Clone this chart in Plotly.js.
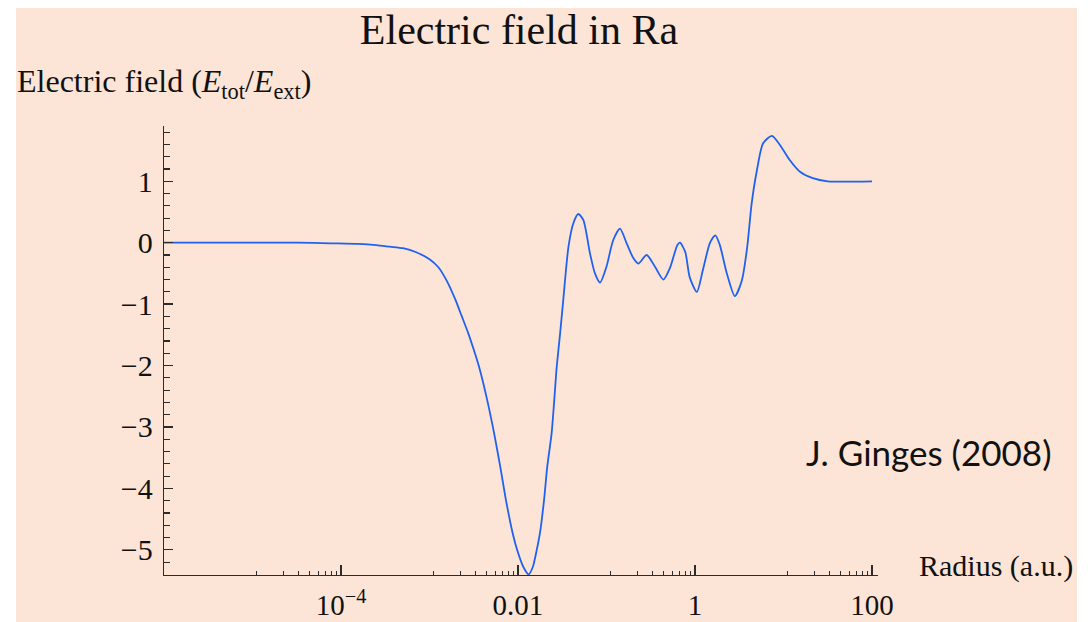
<!DOCTYPE html>
<html>
<head>
<meta charset="utf-8">
<script src="https://cdn.plot.ly/plotly-3.0.1.min.js"></script>
<style>
  html, body { margin: 0; padding: 0; background: #ffffff; }
  #chart { position: absolute; left: 16px; top: 8px; width: 1061px; height: 614px; }
</style>
</head>
<body>
<div id="chart"></div>
<script>
// Radius (a.u.) and E_tot/E_ext
const radius = [
  1e-6, 1e-5, 3.16e-5, 7.6e-5, 1.58e-4, 2.51e-4, 3.55e-4, 5.01e-4, 7.08e-4, 1.0e-3,
  1.26e-3, 1.58e-3, 1.95e-3, 2.29e-3, 2.75e-3, 3.16e-3, 3.63e-3, 4.47e-3, 5.37e-3, 6.31e-3,
  7.31e-3, 8.71e-3, 9.77e-3, 0.0115, 0.0132, 0.0147, 0.0163, 0.0177, 0.0197, 0.0214,
  0.0240, 0.0257, 0.0274, 0.0299, 0.0325, 0.0340, 0.0372, 0.0422, 0.0480, 0.0547,
  0.0650, 0.0741, 0.0845, 0.100, 0.119, 0.142, 0.169, 0.201, 0.229, 0.284,
  0.353, 0.439, 0.525, 0.631, 0.676, 0.776, 0.871, 1.05, 1.23, 1.48,
  1.70, 1.91, 2.29, 2.82, 3.39, 3.89, 4.37, 5.01, 5.89, 7.41,
  9.12, 11.7, 15.5, 21.4, 31.6, 100
];
const field = [
  0.00, 0.00, 0.00, -0.01, -0.02, -0.04, -0.065, -0.09, -0.155, -0.27,
  -0.40, -0.63, -0.92, -1.18, -1.48, -1.74, -2.02, -2.55, -3.10, -3.65,
  -4.19, -4.73, -5.00, -5.28, -5.40, -5.28, -5.00, -4.73, -4.19, -3.65,
  -3.10, -2.56, -2.02, -1.48, -0.93, -0.61, -0.065, 0.316, 0.467, 0.37,
  -0.17, -0.50, -0.65, -0.39, 0.04, 0.23, -0.01, -0.25, -0.34, -0.20,
  -0.39, -0.60, -0.40, -0.04, 0.00, -0.15, -0.56, -0.80, -0.44, 0.00,
  0.12, -0.04, -0.50, -0.87, -0.61, -0.07, 0.64, 1.18, 1.62, 1.74,
  1.59, 1.35, 1.15, 1.05, 1.00, 1.00
];

// Axis ticks
const xMajorTicks = [1e-4, 0.01, 1, 100];
const xMajorLabels = ["10<sup>\u22124</sup>", "0.01", "1", "100"];
const xMinorTicks = [
  1.11e-5, 2.22e-5, 3.33e-5, 4.44e-5, 5.56e-5, 6.67e-5, 7.78e-5, 8.89e-5,
  1.11e-3, 2.22e-3, 3.33e-3, 4.44e-3, 5.56e-3, 6.67e-3, 7.78e-3, 8.89e-3,
  0.111, 0.222, 0.333, 0.444, 0.556, 0.667, 0.778, 0.889,
  11.1, 22.2, 33.3, 44.4, 55.6, 66.7, 77.8, 88.9
];
const yMajorTicks = [-5, -4, -3, -2, -1, 0, 1];

const titleText = "Electric field in Ra";
const yLabelText = "Electric field (<i>E</i><sub>tot</sub>/<i>E</i><sub>ext</sub>)";
const xLabelText = "Radius (a.u.)";
const creditText = "J. Ginges (2008)";

// layout geometry
const W = 1061, H = 614;
const M = { l: 148, r: 199, t: 118, b: 47 };
const PW = W - M.l - M.r, PH = H - M.t - M.b;
const OX = 16, OY = 8;
const px2x = px => (px - OX - M.l) / PW;
const py2y = py => 1 - (py - OY - M.t) / PH;

const serif = "Liberation Serif, Times New Roman, serif";
const bg = "#FCE4D6";
const axisColor = "#2b2b2b";

const trace = {
  x: radius, y: field, type: "scatter", mode: "lines",
  line: { color: "#1F62F0", width: 1.8, shape: "spline", smoothing: 0.7 },
  hoverinfo: "x+y"
};

const layout = {
  width: W, height: H,
  paper_bgcolor: bg, plot_bgcolor: bg,
  margin: M,
  showlegend: false,
  title: {
    text: titleText,
    font: { family: serif, size: 42, color: "#111111" },
    xref: "container", yref: "container",
    x: (519 - OX) / W, xanchor: "center",
    y: 1 - (29 - OY) / H, yanchor: "middle"
  },
  xaxis: {
    type: "log", range: [-6, 2.068],
    showgrid: false, zeroline: false,
    showline: true, linecolor: axisColor, linewidth: 1.3,
    tickmode: "array", tickvals: xMajorTicks, ticktext: xMajorLabels,
    ticks: "inside", ticklen: 10, tickwidth: 1.3, tickcolor: axisColor,
    ticklabelstandoff: 4,
    tickfont: { family: serif, size: 29, color: "#111111" },
    minor: { tickmode: "array", tickvals: xMinorTicks, ticks: "inside", ticklen: 4, tickwidth: 1.1, tickcolor: axisColor, showgrid: false }
  },
  yaxis: {
    range: [-5.41, 1.90],
    showgrid: false, zeroline: false,
    showline: true, linecolor: axisColor, linewidth: 1.3,
    tickmode: "array", tickvals: yMajorTicks,
    ticks: "inside", ticklen: 9, tickwidth: 1.3, tickcolor: axisColor,
    ticklabelstandoff: 4,
    tickfont: { family: serif, size: 30, color: "#111111" },
    minor: { dtick: 0.2, tick0: 0, ticks: "inside", ticklen: 6, tickwidth: 1.1, tickcolor: axisColor, showgrid: false }
  },
  annotations: [
    { text: yLabelText, xref: "paper", yref: "paper", x: px2x(15), y: py2y(84),
      xanchor: "left", yanchor: "middle", showarrow: false,
      font: { family: serif, size: 32, color: "#111111" } },
    { text: xLabelText, xref: "paper", yref: "paper", x: px2x(917), y: py2y(566),
      xanchor: "left", yanchor: "middle", showarrow: false,
      font: { family: serif, size: 30, color: "#111111" } },
    { text: creditText, xref: "paper", yref: "paper", x: px2x(804), y: py2y(452),
      xanchor: "left", yanchor: "middle", showarrow: false,
      font: { family: "Lato, Open Sans, sans-serif", size: 35, color: "#111111" } }
  ]
};

Plotly.newPlot("chart", [trace], layout, { displayModeBar: false, staticPlot: true });
</script>
</body>
</html>
